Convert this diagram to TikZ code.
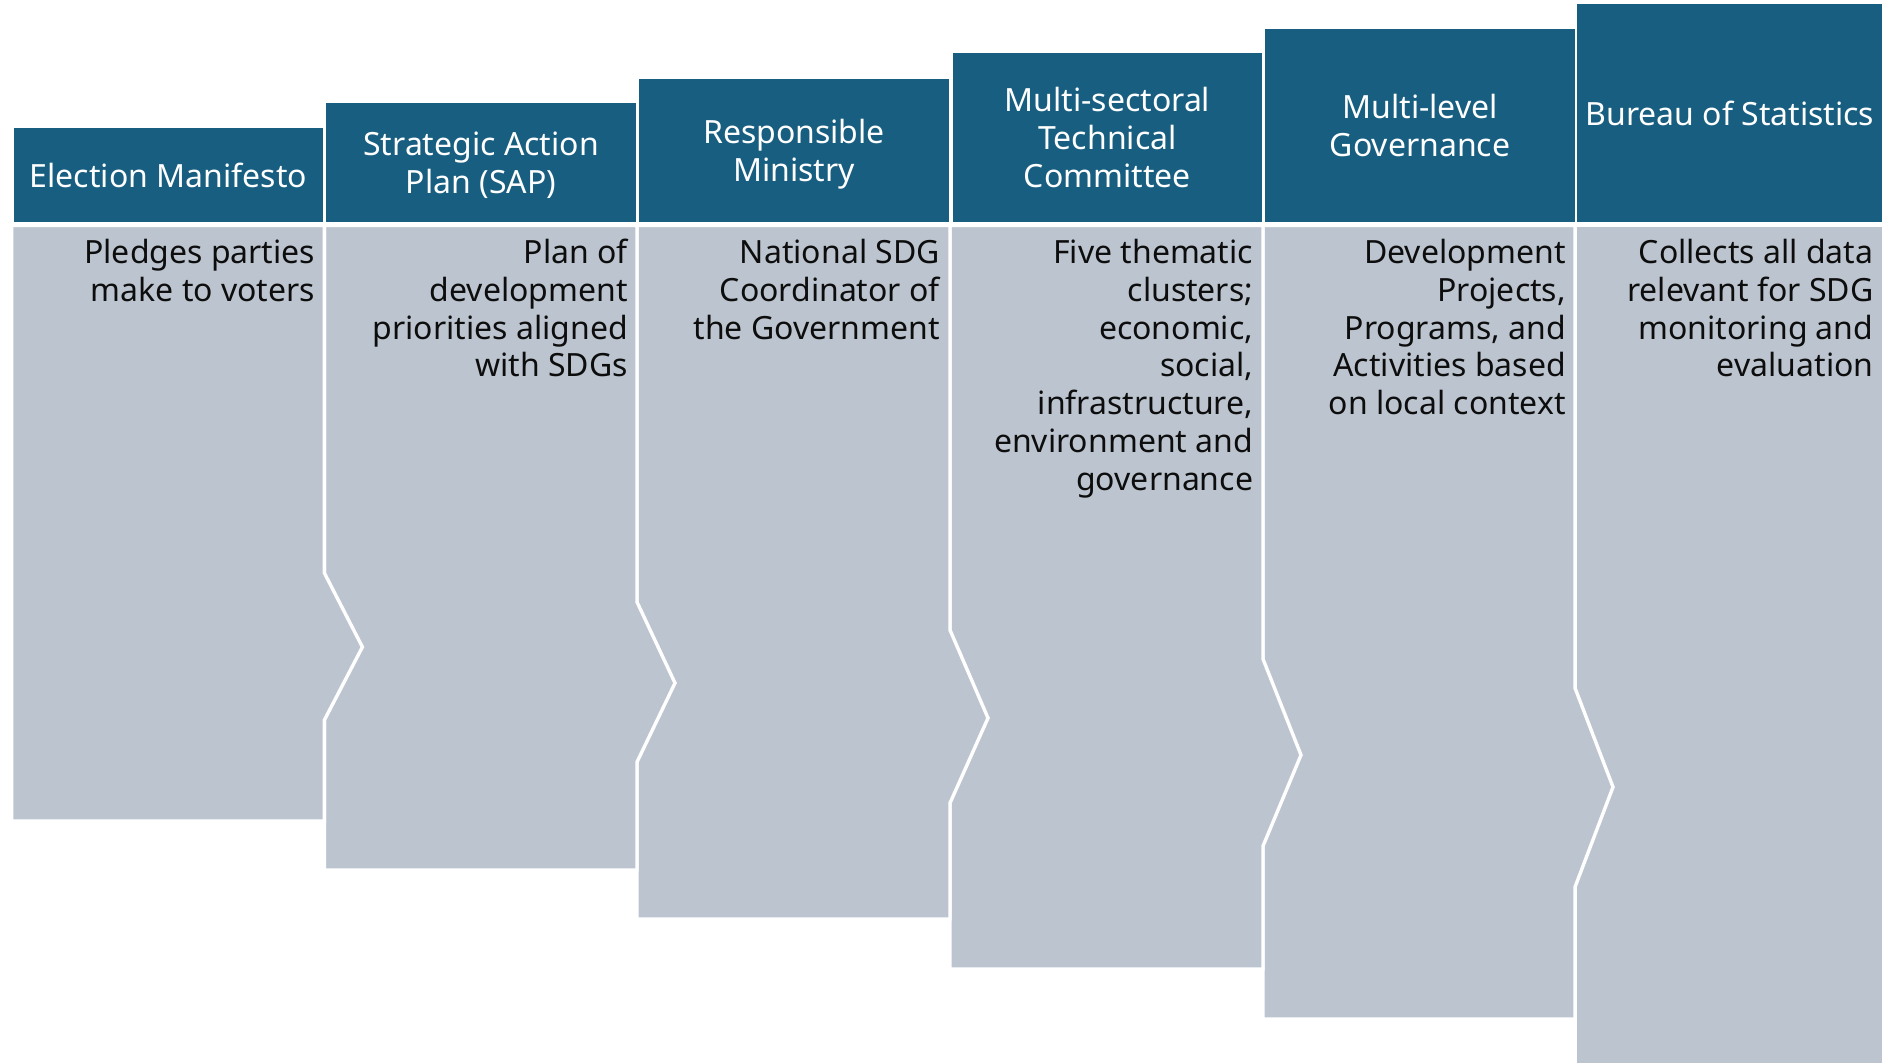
\documentclass[tikz,border=0pt]{standalone}
\usepackage{fontspec}
\setmainfont{Noto Sans}
\usetikzlibrary{positioning}
\definecolor{headblue}{RGB}{24,94,128}
\definecolor{bodygrey}{RGB}{188,197,207}
\tikzstyle{headbox}=[rectangle,fill=headblue,text=white,align=center,
inner sep=0pt,text depth=0pt,minimum width=154.7pt,anchor=south west]
\tikzstyle{bodytext}=[rectangle,align=right,inner sep=0pt,text=black!95]
\tikzstyle{bodyshape}=[fill=bodygrey,draw=white,line width=1.7pt,
line join=miter]

\begin{document}
\begin{tikzpicture}[x=0.5pt,y=-0.5pt,font=\fontsize{16}{18.9}\selectfont]
    \useasboundingbox (0,0) rectangle (1888,1062);

    % grey columns, last one first so every arrow lies over its neighbour
    \path[bodyshape] (1575,225.3) rectangle (1884,1070);
    \foreach \xl/\xr/\bot/\ya/\ty/\yb in {
        1263/1575/1019/688/787/887,
        950/1263/969/659/755/846,
        637/950/919/630/718/803,
        324.4/637/870/602/683/762,
        11.6/324.4/821/573/647/720}
        \path[bodyshape] (\xl,225.3) -- (\xr,225.3) -- (\xr,\ya)
            -- ({\xr+38},\ty) -- (\xr,\yb) -- (\xr,\bot) -- (\xl,\bot) -- cycle;

    % header boxes
    \node[headbox, minimum height=47.35pt] (hdA) at (13.3,222.7)
        {Election Manifesto};
    \node[headbox, minimum height=59.6pt] (hdB) at (326,222.7)
        {Strategic Action\\Plan (SAP)};
    \node[headbox, minimum height=71.6pt] (hdC) at (639,222.7)
        {Responsible\\Ministry};
    \node[headbox, minimum height=84.85pt] (hdD) at (952.3,222.7)
        {Multi-sectoral\\Technical\\Committee};
    \node[headbox, minimum height=96.85pt] (hdE) at (1265,222.7)
        {Multi-level\\Governance};
    \node[headbox, minimum height=108.95pt, minimum width=152.5pt] (hdF)
        at (1577,222.7) {Bureau of Statistics};

    % descriptions under each header
    \node[bodytext, below left=8pt and 4pt of hdA.south east] (txA)
        {Pledges parties\\make to voters};
    \node[bodytext, below left=8pt and 4pt of hdB.south east] (txB)
        {Plan of\\development\\priorities aligned\\with SDGs};
    \node[bodytext, below left=8pt and 4.5pt of hdC.south east] (txC)
        {National SDG\\Coordinator of\\the Government};
    \node[bodytext, below left=8pt and 4.5pt of hdD.south east] (txD)
        {Five thematic\\clusters;\\economic,\\social,\\infrastructure,\\environment and\\governance};
    \node[bodytext, below left=8pt and 4.5pt of hdE.south east] (txE)
        {Development\\Projects,\\Programs, and\\Activities based\\on local context};
    \node[bodytext, below left=8pt and 4.5pt of hdF.south east] (txF)
        {Collects all data\\relevant for SDG\\monitoring and\\evaluation};
\end{tikzpicture}
\end{document}
